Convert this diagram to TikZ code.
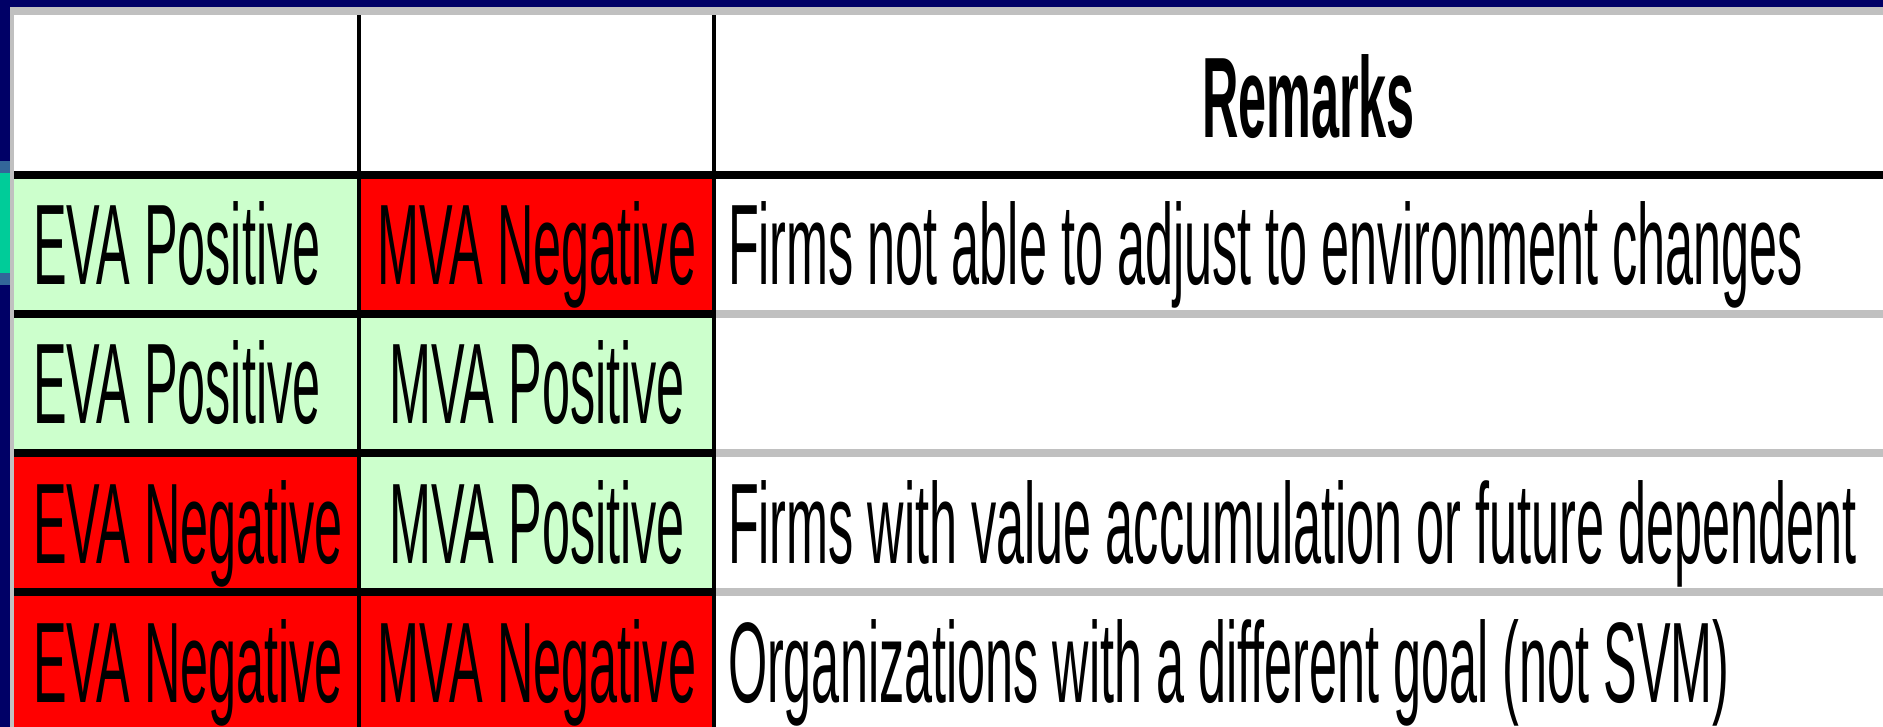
\documentclass[tikz,border=0pt]{standalone}
\usepackage{fontspec}
\setmainfont{Liberation Sans}
\definecolor{navybg}{HTML}{000066}
\definecolor{framegray}{HTML}{C0C0C0}
\definecolor{stripeblue}{HTML}{336699}
\definecolor{stripeteal}{HTML}{00CC99}
\definecolor{cellgreen}{HTML}{CCFFCC}
\definecolor{cellred}{HTML}{FF0000}
\newcommand{\narrow}[1]{\scalebox{0.44}[1]{#1}}
\begin{document}
\begin{tikzpicture}[x=1pt,y=-1pt,
  txt/.style={inner sep=0pt, outer sep=0pt, font=\fontsize{114.5}{120}\selectfont},
  lefttxt/.style={txt, anchor=base west},
  midtxt/.style={txt, anchor=base}]
\useasboundingbox (0,0) rectangle (1883,727);
% frame
\fill[navybg] (0,0) rectangle (1883,727);
\fill[framegray] (10,7) rectangle (1883,727);
\fill[white] (14,15) rectangle (1883,727);
\fill[stripeblue] (0,161) rectangle (10,285);
\fill[stripeteal] (0,173) rectangle (10,273);
% cell fills
\fill[cellgreen] (14,179) rectangle (357,310);
\fill[cellred]   (361,179) rectangle (712,310);
\fill[cellgreen] (14,318) rectangle (357,449);
\fill[cellgreen] (361,318) rectangle (712,449);
\fill[cellred]   (14,457) rectangle (357,588);
\fill[cellgreen] (361,457) rectangle (712,588);
\fill[cellred]   (14,596) rectangle (357,727);
\fill[cellred]   (361,596) rectangle (712,727);
% rules
\fill[black] (357,15) rectangle (361,727);
\fill[black] (712,15) rectangle (716,727);
\fill[black] (14,171) rectangle (1883,179);
\foreach \y in {310,449,588}{
  \fill[black] (14,\y) rectangle (716,\y+8);
  \fill[framegray] (716,\y) rectangle (1883,\y+8);
}
% texts
\node[midtxt] (hr) at (1308.5,138) {\narrow{\bfseries Remarks}};
\node[lefttxt] (e1) at (33,285) {\narrow{EVA Positive}};
\node[midtxt]  (m1) at (537,285) {\narrow{MVA Negative}};
\node[lefttxt] (r1) at (728,285) {\narrow{Firms not able to adjust to environment changes}};
\node[lefttxt] (e2) at (33,424) {\narrow{EVA Positive}};
\node[midtxt]  (m2) at (537,424) {\narrow{MVA Positive}};
\node[lefttxt] (e3) at (33,563) {\narrow{EVA Negative}};
\node[midtxt]  (m3) at (537,563) {\narrow{MVA Positive}};
\node[lefttxt] (r3) at (728,563) {\narrow{Firms with value accumulation or future dependent}};
\node[lefttxt] (e4) at (33,702) {\narrow{EVA Negative}};
\node[midtxt]  (m4) at (537,702) {\narrow{MVA Negative}};
\node[lefttxt] (r4) at (728,702) {\narrow{Organizations with a different goal (not SVM)}};
\end{tikzpicture}
\end{document}
